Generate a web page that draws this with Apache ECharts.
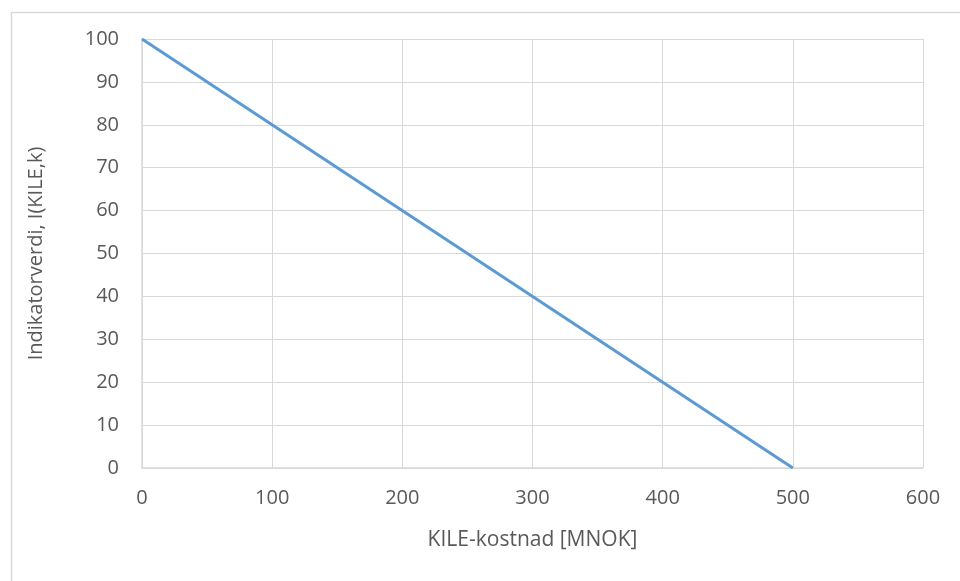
<!DOCTYPE html>
<html><head><meta charset="utf-8">
<script src="https://cdn.jsdelivr.net/npm/echarts@6/dist/echarts.min.js"></script>
<style>html,body{margin:0;padding:0;background:#fff}#c{width:960px;height:581px}</style>
</head><body><div id="c"></div>
<script>
const costValues = [0, 500];
const indicatorValues = [100, 0];
const xAxisTitle = 'KILE-kostnad [MNOK]';
const yAxisTitle = 'Indikatorverdi, I(KILE,k)';

const chart = echarts.init(document.getElementById('c'), null, {renderer: 'canvas'});
const font = '"Open Sans", sans-serif';
chart.setOption({
  animation: false,
  backgroundColor: '#fff',
  graphic: [{type: 'rect', left: 9, top: 10, shape: {width: 1000, height: 640}, style: {fill: 'none', stroke: '#d9d9d9', lineWidth: 1.5}, silent: true}],
  grid: {left: 142, right: 37, top: 39, bottom: 113},
  xAxis: {
    type: 'value', min: 0, max: 600, interval: 100,
    name: xAxisTitle, nameLocation: 'middle', nameGap: 62,
    nameTextStyle: {color: '#595959', fontSize: 21, fontFamily: font},
    axisLine: {show: true, lineStyle: {color: '#d9d9d9', width: 1.5}},
    axisTick: {show: false},
    axisLabel: {color: '#595959', fontSize: 20, fontFamily: font, margin: 20},
    splitLine: {show: true, lineStyle: {color: '#d9d9d9', width: 1}}
  },
  yAxis: {
    type: 'value', min: 0, max: 100, interval: 10,
    name: yAxisTitle, nameLocation: 'middle', nameGap: 96,
    nameTextStyle: {color: '#595959', fontSize: 20, fontFamily: font},
    axisLine: {show: true, lineStyle: {color: '#d9d9d9', width: 1.5}},
    axisTick: {show: false},
    axisLabel: {color: '#595959', fontSize: 20, fontFamily: font, margin: 23},
    splitLine: {show: true, lineStyle: {color: '#d9d9d9', width: 1}}
  },
  series: [{
    type: 'line',
    data: costValues.map((x, i) => [x, indicatorValues[i]]),
    symbol: 'none',
    lineStyle: {color: '#5b9bd5', width: 3}
  }]
});
</script></body></html>
